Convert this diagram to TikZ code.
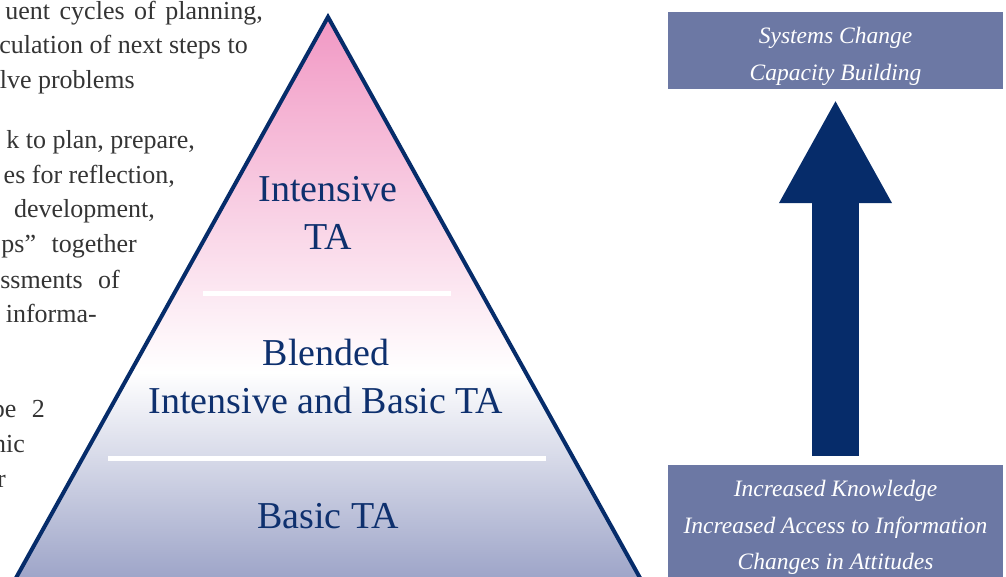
\documentclass[tikz,border=0pt]{standalone}
\usepackage{fontspec}
\setmainfont{Liberation Serif}
\usetikzlibrary{arrows.meta, positioning}
\definecolor{navy}{RGB}{6,44,106}
\definecolor{tatext}{RGB}{14,48,110}
\definecolor{tapink}{RGB}{241,152,196}
\definecolor{tablue}{RGB}{157,164,200}
\definecolor{boxblue}{RGB}{108,120,164}
\definecolor{bodytext}{RGB}{52,52,52}

\begin{document}
\begin{tikzpicture}[x=1pt, y=-1pt,
  level/.style={text=tatext, font=\fontsize{38}{48}\selectfont, align=center, inner sep=0pt},
  outcome/.style={fill=boxblue, text=white, font=\itshape\fontsize{23.5}{36.5}\selectfont, align=center, minimum width=335pt, inner sep=0pt},
  para/.style={anchor=base east, text=bodytext, font=\fontsize{26}{34}\selectfont, inner sep=0pt},
  divider/.style={white, line width=5pt},
  bigarrow/.style={navy, line width=47pt, -{Triangle[length=104pt, width=105pt]}}
]
\useasboundingbox (0,0) rectangle (1006,576);

% paragraph cut off at the left edge
\node[para] (p1) at (263,19) {uent\hspace{3pt} cycles\hspace{3pt} of\hspace{3pt} planning,};
\node[para] (p2) at (248,53) {culation of next steps to};
\node[para] (p3) at (135,88) {lve problems};
\node[para] (p4) at (195,148) {k to plan, prepare,};
\node[para] (p5) at (175,183) {es for reflection,};
\node[para] (p6) at (155,217) {development,};
\node[para] (p7) at (137,252) {ps”\hspace{9pt} together};
\node[para] (p8) at (120,288) {ssments\hspace{9pt} of};
\node[para] (p9) at (97,322) {informa-};
\node[para] (p10) at (45,417) {pe\hspace{9pt} 2};
\node[para] (p11) at (25,452) {nic};
\node[para] (p12) at (6,487) {r};

% pyramid
\coordinate (apex) at (328,17);
\coordinate (baseL) at (2.6,602);
\coordinate (baseR) at (653.4,602);
\begin{scope}
  \clip (apex) -- (baseL) -- (baseR) -- cycle;
  \fill[top color=tapink, bottom color=white] (0,17) rectangle (660,372);
  \fill[top color=white, bottom color=tablue] (0,372) rectangle (660,580);
\end{scope}
\draw[navy, line width=4pt, line join=miter] (baseL) -- (apex) -- (baseR);
\draw[divider] (203,293) -- (451,293);
\draw[divider] (108,458) -- (546,458);

\node[level] (intensive) at (328,213) {Intensive\\TA};
\node[level] (blended) at (326,376) {Blended\\Intensive and Basic TA};
\node[level] (basic) at (328,516) {Basic TA};

% outcomes on the right
\node[outcome, minimum height=77pt] (change) at (835.5,50.5) {\rule{0pt}{28pt}Systems Change\\Capacity Building};
\node[outcome, minimum height=125pt, anchor=north] (knowledge) at (835.5,465) {Increased Knowledge\\Increased Access to Information\\Changes in Attitudes};

\draw[bigarrow] ([yshift=9pt]knowledge.north) -- ([yshift=-10pt]change.south);
\end{tikzpicture}
\end{document}
